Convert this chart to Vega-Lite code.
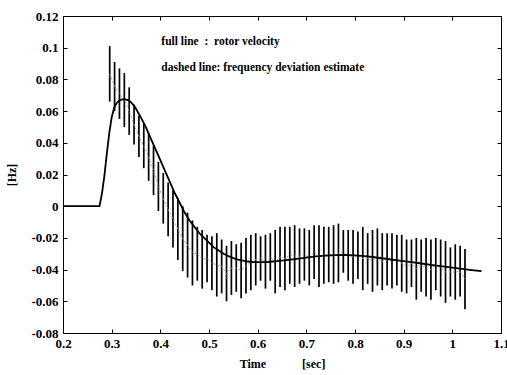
{
  "$schema": "https://vega.github.io/schema/vega-lite/v6.json",
  "width": 438,
  "height": 317,
  "autosize": {"type": "none"},
  "padding": {"left": 63, "top": 16, "right": 6, "bottom": 42},
  "background": "white",
  "config": {
    "font": "Liberation Serif",
    "view": {"stroke": "black", "strokeWidth": 1},
    "axis": {
      "domainColor": "black",
      "domainWidth": 1,
      "tickColor": "black",
      "tickSize": -4,
      "grid": false,
      "labelFont": "Liberation Serif",
      "labelFontWeight": "bold",
      "labelFontSize": 13,
      "labelColor": "black",
      "titleFont": "Liberation Serif",
      "titleFontWeight": "bold",
      "titleFontSize": 12,
      "titleColor": "black"
    }
  },
  "datasets": {
    "rotor": [
      {"t": 0.2, "v": 0}, {"t": 0.275, "v": 0}, {"t": 0.28, "v": 0.008}, {"t": 0.285, "v": 0.019},
      {"t": 0.29, "v": 0.033}, {"t": 0.295, "v": 0.046}, {"t": 0.3, "v": 0.056}, {"t": 0.305, "v": 0.062},
      {"t": 0.31, "v": 0.065}, {"t": 0.315, "v": 0.0665}, {"t": 0.32, "v": 0.0672}, {"t": 0.325, "v": 0.0675},
      {"t": 0.33, "v": 0.0673}, {"t": 0.335, "v": 0.0668}, {"t": 0.34, "v": 0.0655}, {"t": 0.345, "v": 0.0638},
      {"t": 0.35, "v": 0.0615}, {"t": 0.36, "v": 0.056}, {"t": 0.37, "v": 0.05}, {"t": 0.38, "v": 0.043},
      {"t": 0.39, "v": 0.036}, {"t": 0.4, "v": 0.029}, {"t": 0.41, "v": 0.022}, {"t": 0.42, "v": 0.015},
      {"t": 0.43, "v": 0.008}, {"t": 0.44, "v": 0.002}, {"t": 0.45, "v": -0.004}, {"t": 0.46, "v": -0.009},
      {"t": 0.47, "v": -0.013}, {"t": 0.48, "v": -0.017}, {"t": 0.49, "v": -0.02}, {"t": 0.5, "v": -0.023},
      {"t": 0.51, "v": -0.026}, {"t": 0.52, "v": -0.028}, {"t": 0.53, "v": -0.03}, {"t": 0.54, "v": -0.0315},
      {"t": 0.55, "v": -0.0328}, {"t": 0.56, "v": -0.0337}, {"t": 0.57, "v": -0.0344}, {"t": 0.58, "v": -0.0349},
      {"t": 0.59, "v": -0.0352}, {"t": 0.6, "v": -0.0353}, {"t": 0.62, "v": -0.0352}, {"t": 0.64, "v": -0.0347},
      {"t": 0.66, "v": -0.034}, {"t": 0.68, "v": -0.0332}, {"t": 0.7, "v": -0.0324}, {"t": 0.72, "v": -0.0317},
      {"t": 0.74, "v": -0.0312}, {"t": 0.76, "v": -0.0309}, {"t": 0.78, "v": -0.0308}, {"t": 0.8, "v": -0.031},
      {"t": 0.82, "v": -0.0315}, {"t": 0.84, "v": -0.0322}, {"t": 0.86, "v": -0.033}, {"t": 0.88, "v": -0.0338},
      {"t": 0.9, "v": -0.0346}, {"t": 0.92, "v": -0.0355}, {"t": 0.94, "v": -0.0363}, {"t": 0.96, "v": -0.0372},
      {"t": 0.98, "v": -0.038}, {"t": 1.0, "v": -0.0388}, {"t": 1.02, "v": -0.0396}, {"t": 1.04, "v": -0.0403},
      {"t": 1.06, "v": -0.041}
    ],
    "est": [
      {"t": 0.296, "hi": 0.101, "lo": 0.066, "mid": 0.0835},
      {"t": 0.306, "hi": 0.091, "lo": 0.06, "mid": 0.0755},
      {"t": 0.316, "hi": 0.087, "lo": 0.055, "mid": 0.071},
      {"t": 0.326, "hi": 0.084, "lo": 0.05, "mid": 0.067},
      {"t": 0.336, "hi": 0.075, "lo": 0.045, "mid": 0.06},
      {"t": 0.346, "hi": 0.064, "lo": 0.039, "mid": 0.0515},
      {"t": 0.356, "hi": 0.057, "lo": 0.031, "mid": 0.044},
      {"t": 0.366, "hi": 0.052, "lo": 0.024, "mid": 0.038},
      {"t": 0.376, "hi": 0.046, "lo": 0.016, "mid": 0.031},
      {"t": 0.386, "hi": 0.038, "lo": 0.007, "mid": 0.0225},
      {"t": 0.396, "hi": 0.028, "lo": -0.003, "mid": 0.0125},
      {"t": 0.406, "hi": 0.021, "lo": -0.011, "mid": 0.005},
      {"t": 0.416, "hi": 0.015, "lo": -0.019, "mid": -0.002},
      {"t": 0.426, "hi": 0.01, "lo": -0.026, "mid": -0.008},
      {"t": 0.436, "hi": 0.005, "lo": -0.034, "mid": -0.0145},
      {"t": 0.446, "hi": 0.0, "lo": -0.041, "mid": -0.0205},
      {"t": 0.456, "hi": -0.004, "lo": -0.045, "mid": -0.0245},
      {"t": 0.466, "hi": -0.009, "lo": -0.05, "mid": -0.0295},
      {"t": 0.476, "hi": -0.013, "lo": -0.047, "mid": -0.03},
      {"t": 0.486, "hi": -0.015, "lo": -0.052, "mid": -0.0335},
      {"t": 0.496, "hi": -0.018, "lo": -0.048, "mid": -0.033},
      {"t": 0.506, "hi": -0.019, "lo": -0.053, "mid": -0.036},
      {"t": 0.516, "hi": -0.017, "lo": -0.057, "mid": -0.037},
      {"t": 0.526, "hi": -0.021, "lo": -0.055, "mid": -0.038},
      {"t": 0.536, "hi": -0.025, "lo": -0.06, "mid": -0.0425},
      {"t": 0.546, "hi": -0.022, "lo": -0.056, "mid": -0.039},
      {"t": 0.556, "hi": -0.024, "lo": -0.054, "mid": -0.039},
      {"t": 0.566, "hi": -0.023, "lo": -0.058, "mid": -0.0405},
      {"t": 0.576, "hi": -0.02, "lo": -0.055, "mid": -0.0375},
      {"t": 0.586, "hi": -0.018, "lo": -0.053, "mid": -0.0355},
      {"t": 0.596, "hi": -0.017, "lo": -0.05, "mid": -0.0335},
      {"t": 0.606, "hi": -0.019, "lo": -0.047, "mid": -0.033},
      {"t": 0.616, "hi": -0.018, "lo": -0.052, "mid": -0.035},
      {"t": 0.626, "hi": -0.017, "lo": -0.047, "mid": -0.032},
      {"t": 0.636, "hi": -0.015, "lo": -0.055, "mid": -0.035},
      {"t": 0.646, "hi": -0.013, "lo": -0.051, "mid": -0.032},
      {"t": 0.656, "hi": -0.013, "lo": -0.053, "mid": -0.033},
      {"t": 0.666, "hi": -0.013, "lo": -0.049, "mid": -0.031},
      {"t": 0.676, "hi": -0.012, "lo": -0.051, "mid": -0.0315},
      {"t": 0.686, "hi": -0.014, "lo": -0.049, "mid": -0.0315},
      {"t": 0.696, "hi": -0.014, "lo": -0.047, "mid": -0.0305},
      {"t": 0.706, "hi": -0.015, "lo": -0.05, "mid": -0.0325},
      {"t": 0.716, "hi": -0.012, "lo": -0.046, "mid": -0.029},
      {"t": 0.726, "hi": -0.012, "lo": -0.051, "mid": -0.0315},
      {"t": 0.736, "hi": -0.013, "lo": -0.049, "mid": -0.031},
      {"t": 0.746, "hi": -0.013, "lo": -0.048, "mid": -0.0305},
      {"t": 0.756, "hi": -0.012, "lo": -0.049, "mid": -0.0305},
      {"t": 0.766, "hi": -0.011, "lo": -0.048, "mid": -0.0295},
      {"t": 0.776, "hi": -0.015, "lo": -0.042, "mid": -0.0285},
      {"t": 0.786, "hi": -0.015, "lo": -0.047, "mid": -0.031},
      {"t": 0.796, "hi": -0.015, "lo": -0.049, "mid": -0.032},
      {"t": 0.806, "hi": -0.016, "lo": -0.046, "mid": -0.031},
      {"t": 0.816, "hi": -0.013, "lo": -0.053, "mid": -0.033},
      {"t": 0.826, "hi": -0.017, "lo": -0.049, "mid": -0.033},
      {"t": 0.836, "hi": -0.015, "lo": -0.054, "mid": -0.0345},
      {"t": 0.846, "hi": -0.014, "lo": -0.05, "mid": -0.032},
      {"t": 0.856, "hi": -0.017, "lo": -0.053, "mid": -0.035},
      {"t": 0.866, "hi": -0.017, "lo": -0.05, "mid": -0.0335},
      {"t": 0.876, "hi": -0.017, "lo": -0.052, "mid": -0.0345},
      {"t": 0.886, "hi": -0.018, "lo": -0.05, "mid": -0.034},
      {"t": 0.896, "hi": -0.018, "lo": -0.054, "mid": -0.036},
      {"t": 0.906, "hi": -0.021, "lo": -0.055, "mid": -0.038},
      {"t": 0.916, "hi": -0.021, "lo": -0.051, "mid": -0.036},
      {"t": 0.926, "hi": -0.02, "lo": -0.059, "mid": -0.0395},
      {"t": 0.936, "hi": -0.021, "lo": -0.054, "mid": -0.0375},
      {"t": 0.946, "hi": -0.02, "lo": -0.057, "mid": -0.0385},
      {"t": 0.956, "hi": -0.021, "lo": -0.059, "mid": -0.04},
      {"t": 0.966, "hi": -0.02, "lo": -0.053, "mid": -0.0365},
      {"t": 0.976, "hi": -0.021, "lo": -0.057, "mid": -0.039},
      {"t": 0.986, "hi": -0.022, "lo": -0.061, "mid": -0.0415},
      {"t": 0.996, "hi": -0.026, "lo": -0.057, "mid": -0.0415},
      {"t": 1.006, "hi": -0.024, "lo": -0.059, "mid": -0.0415},
      {"t": 1.016, "hi": -0.025, "lo": -0.057, "mid": -0.041},
      {"t": 1.026, "hi": -0.027, "lo": -0.065, "mid": -0.046}
    ],
    "notes": [
      {"t": 0.402, "v": 0.1036, "label": "full line\u00a0\u00a0:\u00a0\u00a0rotor velocity"},
      {"t": 0.402, "v": 0.0872, "label": "dashed line: frequency deviation estimate"}
    ]
  },
  "layer": [
    {
      "data": {"name": "est"},
      "mark": {"type": "rule", "color": "black", "strokeWidth": 1.7},
      "encoding": {
        "x": {
          "field": "t", "type": "quantitative",
          "scale": {"domain": [0.2, 1.1], "nice": false, "zero": false},
          "axis": {
            "orient": "bottom", "values": [0.2, 0.3, 0.4, 0.5, 0.6, 0.7, 0.8, 0.9, 1.0, 1.1],
            "format": ".1~f", "labelPadding": 8, "labelFlush": false, "labelOverlap": false,
            "title": "Time\u00a0\u00a0\u00a0\u00a0\u00a0\u00a0\u00a0\u00a0\u00a0\u00a0\u00a0\u00a0[sec]",
            "titlePadding": 8
          }
        },
        "y": {
          "field": "hi", "type": "quantitative",
          "scale": {"domain": [-0.08, 0.12], "nice": false, "zero": false},
          "axis": {
            "orient": "left", "values": [-0.08, -0.06, -0.04, -0.02, 0, 0.02, 0.04, 0.06, 0.08, 0.1, 0.12],
            "labelExpr": "replace(format(datum.value, '.2~f'), '\u2212', '-')",
            "labelPadding": 9, "labelFlush": false, "labelOverlap": false,
            "title": "[Hz]", "titlePadding": 12
          }
        },
        "y2": {"field": "lo"}
      }
    },
    {
      "data": {"name": "est"},
      "mark": {"type": "line", "color": "#a0a0a0", "strokeWidth": 1, "strokeDash": [2, 2]},
      "encoding": {
        "x": {
          "field": "t", "type": "quantitative",
          "scale": {"domain": [0.2, 1.1], "nice": false, "zero": false},
          "axis": {"orient": "top", "values": [0.2, 0.3, 0.4, 0.5, 0.6, 0.7, 0.8, 0.9, 1.0, 1.1], "labels": false, "title": null}
        },
        "y": {
          "field": "mid", "type": "quantitative",
          "scale": {"domain": [-0.08, 0.12], "nice": false, "zero": false},
          "axis": {"orient": "right", "values": [-0.08, -0.06, -0.04, -0.02, 0, 0.02, 0.04, 0.06, 0.08, 0.1, 0.12], "labels": false, "title": null}
        }
      }
    },
    {
      "data": {"name": "rotor"},
      "mark": {"type": "line", "color": "black", "strokeWidth": 1.8},
      "encoding": {
        "x": {"field": "t", "type": "quantitative", "axis": null},
        "y": {"field": "v", "type": "quantitative", "axis": null}
      }
    },
    {
      "data": {"name": "notes"},
      "mark": {"type": "text", "align": "left", "baseline": "middle", "font": "Liberation Serif", "fontWeight": "bold", "fontSize": 11.5, "color": "black"},
      "encoding": {
        "x": {"field": "t", "type": "quantitative", "axis": null},
        "y": {"field": "v", "type": "quantitative", "axis": null},
        "text": {"field": "label"}
      }
    }
  ],
  "resolve": {"axis": {"x": "independent", "y": "independent"}}
}
